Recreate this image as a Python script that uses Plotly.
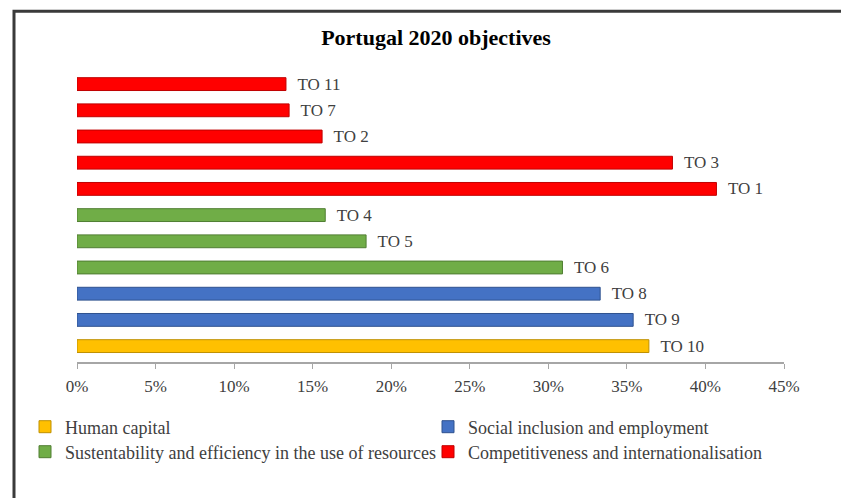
import plotly.graph_objects as go

# ---- data ----
labels = ["TO 11", "TO 7", "TO 2", "TO 3", "TO 1", "TO 4", "TO 5", "TO 6", "TO 8", "TO 9", "TO 10"]
values = [0.133, 0.135, 0.156, 0.379, 0.407, 0.158, 0.184, 0.309, 0.333, 0.354, 0.364]
groups = ["Competitiveness and internationalisation"] * 5 + \
         ["Sustentability and efficiency in the use of resources"] * 3 + \
         ["Social inclusion and employment"] * 2 + \
         ["Human capital"]
group_order = ["Human capital", "Social inclusion and employment",
               "Sustentability and efficiency in the use of resources",
               "Competitiveness and internationalisation"]
group_colors = {"Human capital": ("#FFC000", "#BF9000"),
                "Social inclusion and employment": ("#4472C4", "#2F528F"),
                "Sustentability and efficiency in the use of resources": ("#70AD47", "#507E32"),
                "Competitiveness and internationalisation": ("#FF0000", "#C00000")}
title_text = "Portugal 2020 objectives"

W, H = 841, 498
ML, MR, MT, MB = 77, 57, 71, 130
PW, PH = W - ML - MR, H - MT - MB
FONT = "Liberation Serif, Times New Roman, serif"
TXT = "#404040"

# legend slot positions (pixels: left x of item, centre y) – 2 x 2 grid
legend_names = ["legend", "legend2", "legend3", "legend4"]
legend_pos = [(25, 427), (428, 427), (25, 452), (428, 452)]

fig = go.Figure()
for g, lg in zip(group_order, legend_names):
    idx = [i for i, gg in enumerate(groups) if gg == g]
    fill, edge = group_colors[g]
    fig.add_trace(go.Bar(
        x=[values[i] for i in idx],
        y=[labels[i] for i in idx],
        orientation="h",
        name=g,
        legend=lg,
        width=0.49,
        marker=dict(color=fill, line=dict(color=edge, width=1)),
        text=["\u00a0\u00a0" + labels[i] for i in idx],
        textposition="outside",
        constraintext="none",
        cliponaxis=False,
        textfont=dict(family=FONT, size=17, color=TXT),
        hoverinfo="x+y",
    ))

def px2paper_x(px):
    return (px - ML) / PW

def px2paper_y(py):
    return (H - MB - py) / PH

legends = {}
for lg, (lx, ly) in zip(legend_names, legend_pos):
    legends[lg] = dict(orientation="h", xref="container", yref="container",
                       x=lx / W, xanchor="left", y=1 - ly / H, yanchor="middle",
                       font=dict(family=FONT, size=18, color=TXT),
                       bgcolor="rgba(0,0,0,0)", borderwidth=0)

fig.update_layout(
    width=W, height=H,
    margin=dict(l=ML, r=MR, t=MT, b=MB),
    paper_bgcolor="white", plot_bgcolor="white",
    barmode="overlay",
    showlegend=True,
    title=dict(text="<b>" + title_text + "</b>", x=436 / W, xref="container", xanchor="center",
               y=1 - 37 / H, yref="container", yanchor="middle",
               font=dict(family=FONT, size=22, color="black")),
    xaxis=dict(range=[0, 0.45], dtick=0.05, tickformat=".0%", showgrid=False, zeroline=False,
               showline=True, linecolor="#A6A6A6", linewidth=1.5,
               ticks="outside", ticklen=5, tickcolor="#A6A6A6", tickwidth=1,
               ticklabelstandoff=3,
               tickfont=dict(family=FONT, size=17, color=TXT)),
    yaxis=dict(type="category", categoryarray=labels, categoryorder="array",
               range=[10.62, -0.5], showticklabels=False, showgrid=False,
               zeroline=False, showline=False, ticks=""),
    shapes=[dict(type="rect", xref="paper", yref="paper",
                 x0=px2paper_x(14), x1=px2paper_x(W + 20),
                 y0=px2paper_y(H + 20), y1=px2paper_y(10),
                 line=dict(color="#3A3A3A", width=3), fillcolor="rgba(0,0,0,0)", layer="below")],
    **legends,
)

fig.write_html("out.html",
               config={"displayModeBar": False},
               post_script="document.body.style.margin='0px';document.body.style.overflow='hidden';")
